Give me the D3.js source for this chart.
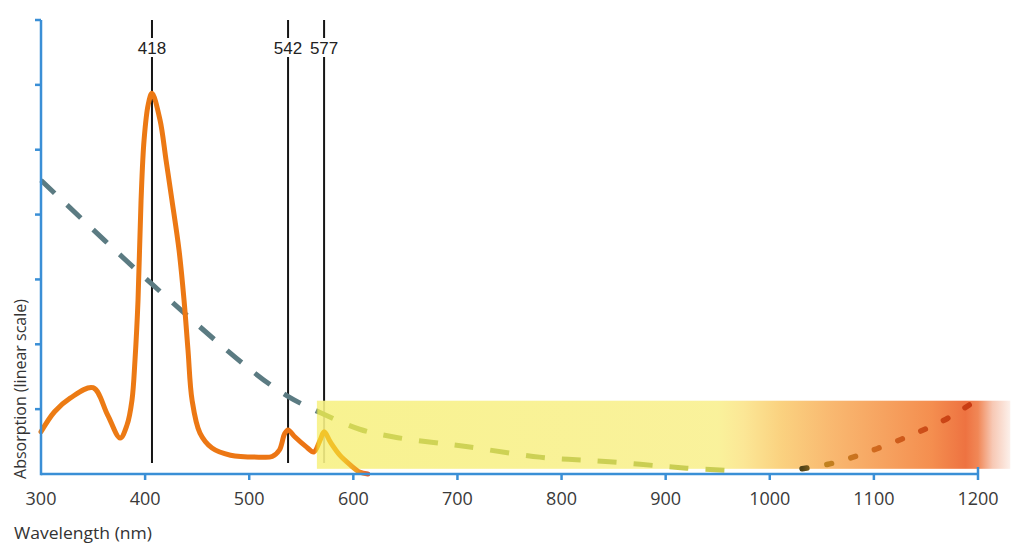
<!DOCTYPE html>
<html lang="en">
<head>
  <meta charset="UTF-8">
  <title>Absorption spectra</title>
  <script src="https://d3js.org/d3.v7.min.js"></script>
  <style>
    body { margin: 0; background: #fff; }
    .tick-label { font-family: "Open Sans", sans-serif; font-size: 18px; fill: #3a3a3a; }
    .axis-title { font-family: "Open Sans", sans-serif; font-size: 16px; fill: #333; }
    .peak-label { font-family: "Liberation Sans", sans-serif; font-size: 17px; fill: #222; }
  </style>
</head>
<body>
<svg width="1032" height="550"></svg>
<script>
// haemoglobin-like curve (orange)
const hbNm  = [300, 313, 328, 350, 364, 376, 382.6, 387.4, 390.3, 393.2, 396.1, 399, 402.9, 406.6, 414.3, 420.1, 425.8, 432.6, 437.4, 441.2, 445.1, 452.7, 464.3, 482, 510, 522, 529, 534, 537.3, 544, 554, 562, 568, 572, 578, 587, 597, 606, 614];
const hbAbs = [0.65, 0.96, 1.17, 1.33, 0.91, 0.555, 0.755, 1.14, 1.76, 2.68, 4.22, 5.15, 5.69, 5.87, 5.46, 4.84, 4.22, 3.45, 2.68, 1.91, 1.14, 0.63, 0.4, 0.29, 0.26, 0.27, 0.37, 0.62, 0.68, 0.57, 0.43, 0.34, 0.52, 0.65, 0.49, 0.29, 0.14, 0.03, 0];

// melanin-like curve (dashed)
const melNm  = [300, 405, 505, 538, 569, 606, 639, 675, 710, 779, 846, 920, 966];
const melAbs = [4.53, 2.95, 1.56, 1.19, 0.94, 0.69, 0.57, 0.49, 0.42, 0.26, 0.19, 0.09, 0.05];

// water-like curve (dotted)
const waterNm  = [1031, 1056, 1080, 1103, 1127, 1149, 1171, 1195];
const waterAbs = [0.08, 0.15, 0.26, 0.39, 0.54, 0.69, 0.86, 1.1];

// marked wavelengths
const peakLabels = ["418", "542", "577"];
const peakPos    = [406.6, 537.3, 571.9];

// highlighted band
const bandNm  = [565, 1231];
const bandAbs = [0.08, 1.13];

const xTicks = [400, 500, 600, 700, 800, 900, 1000, 1100, 1200];
const xLabels = [300, 400, 500, 600, 700, 800, 900, 1000, 1100, 1200];
const yTicks = [1, 2, 3, 4, 5, 6, 7];

const axisColor = "#3a8fd6";

const svg = d3.select("svg");
const defs = svg.append("defs");

const x = d3.scaleLinear().domain([300, 1200]).range([41, 978]);
const y = d3.scaleLinear().domain([0, 7]).range([474, 20]);

function hGradient(id, x1, x2, stops) {
  const g = defs.append("linearGradient")
    .attr("id", id)
    .attr("gradientUnits", "userSpaceOnUse")
    .attr("x1", x1).attr("x2", x2).attr("y1", 0).attr("y2", 0);
  stops.forEach(s => {
    g.append("stop")
      .attr("offset", Math.max(0, Math.min(1, (x(s[0]) - x1) / (x2 - x1))))
      .attr("stop-color", s[1]);
  });
}

const bx1 = x(bandNm[0]), bx2 = x(bandNm[1]);
hGradient("bandGrad", bx1, bx2, [
  [565, "#f7f184"], [950, "#f9f090"], [975, "#fbe48a"], [1010, "#facd72"],
  [1060, "#f8b060"], [1110, "#f5984e"], [1155, "#f3823c"], [1188, "#ec632c"],
  [1200, "#ef7a44"], [1214, "#f6c2ac"], [1231, "#fcefe9"]
]);
hGradient("hbGrad", x(300), x(614), [
  [300, "#ec7c14"], [563, "#ec7414"], [566, "#f2c62a"], [590, "#f2c02a"],
  [604, "#ef9a22"], [614, "#e85a2a"]
]);
hGradient("melGrad", x(300), x(966), [
  [300, "#5b7b82"], [564, "#5b7b82"], [566, "#d2d656"], [966, "#c8cc52"]
]);
hGradient("waterGrad", x(1031), x(1195), [
  [1031, "#4e4218"], [1050, "#c08420"], [1100, "#d06a1e"], [1150, "#cc4c18"], [1195, "#c83a12"]
]);

// vertical marker lines
const peaks = svg.append("g");
peakPos.forEach((p, i) => {
  peaks.append("line")
    .attr("x1", x(p)).attr("x2", x(p))
    .attr("y1", 20).attr("y2", 463)
    .attr("stroke", "#151515").attr("stroke-width", 2);
  peaks.append("rect")
    .attr("x", x(p) - 16).attr("y", 38)
    .attr("width", 32).attr("height", 19)
    .attr("fill", "#fff");
  peaks.append("text")
    .attr("class", "peak-label")
    .attr("x", x(p)).attr("y", 54)
    .attr("text-anchor", "middle")
    .text(peakLabels[i]);
});

// highlighted band
svg.append("rect")
  .attr("x", bx1).attr("y", y(bandAbs[1]))
  .attr("width", bx2 - bx1).attr("height", y(bandAbs[0]) - y(bandAbs[1]))
  .attr("fill", "url(#bandGrad)")
  .attr("opacity", 0.9);

const curve = d3.line().x(d => x(d[0])).y(d => y(d[1])).curve(d3.curveCatmullRom.alpha(0.5));

svg.append("path")
  .attr("d", curve(melNm.map((n, i) => [n, melAbs[i]])))
  .attr("fill", "none")
  .attr("stroke", "url(#melGrad)")
  .attr("stroke-width", 5)
  .attr("stroke-dasharray", "19,17");

svg.append("path")
  .attr("d", curve(waterNm.map((n, i) => [n, waterAbs[i]])))
  .attr("fill", "none")
  .attr("stroke", "url(#waterGrad)")
  .attr("stroke-width", 5.5)
  .attr("stroke-linecap", "round")
  .attr("stroke-dasharray", "5,20");

svg.append("path")
  .attr("d", curve(hbNm.map((n, i) => [n, hbAbs[i]])))
  .attr("fill", "none")
  .attr("stroke", "url(#hbGrad)")
  .attr("stroke-width", 5)
  .attr("stroke-linejoin", "round")
  .attr("stroke-linecap", "round");

// axes
const xAxis = svg.append("g").attr("transform", "translate(0,474)");
xAxis.append("line")
  .attr("x1", 41).attr("x2", x(1200))
  .attr("stroke", axisColor).attr("stroke-width", 2.5);
xAxis.selectAll(".xt").data(xTicks).enter().append("line")
  .attr("x1", d => x(d)).attr("x2", d => x(d))
  .attr("y1", 0).attr("y2", 6)
  .attr("stroke", axisColor).attr("stroke-width", 2.5);
xAxis.append("line")
  .attr("x1", x(1200)).attr("x2", x(1200))
  .attr("y1", 0).attr("y2", -7)
  .attr("stroke", axisColor).attr("stroke-width", 2.5);
xAxis.selectAll(".xl").data(xLabels).enter().append("text")
  .attr("class", "tick-label")
  .attr("x", d => x(d)).attr("y", 31)
  .attr("text-anchor", "middle")
  .text(d => d);

const yAxis = svg.append("g").attr("transform", "translate(41,0)");
yAxis.append("line")
  .attr("y1", y(7)).attr("y2", y(0) + 1.2)
  .attr("stroke", axisColor).attr("stroke-width", 2.5);
yAxis.selectAll(".yt").data(yTicks).enter().append("line")
  .attr("x1", -6).attr("x2", 0)
  .attr("y1", d => y(d)).attr("y2", d => y(d))
  .attr("stroke", axisColor).attr("stroke-width", 2.5);

svg.append("text")
  .attr("class", "axis-title")
  .attr("x", 14).attr("y", 539)
  .attr("textLength", 138)
  .attr("lengthAdjust", "spacingAndGlyphs")
  .text("Wavelength (nm)");

svg.append("text")
  .attr("class", "axis-title")
  .attr("transform", "translate(26,389) rotate(-90)")
  .attr("text-anchor", "middle")
  .text("Absorption (linear scale)");
</script>
</body>
</html>
